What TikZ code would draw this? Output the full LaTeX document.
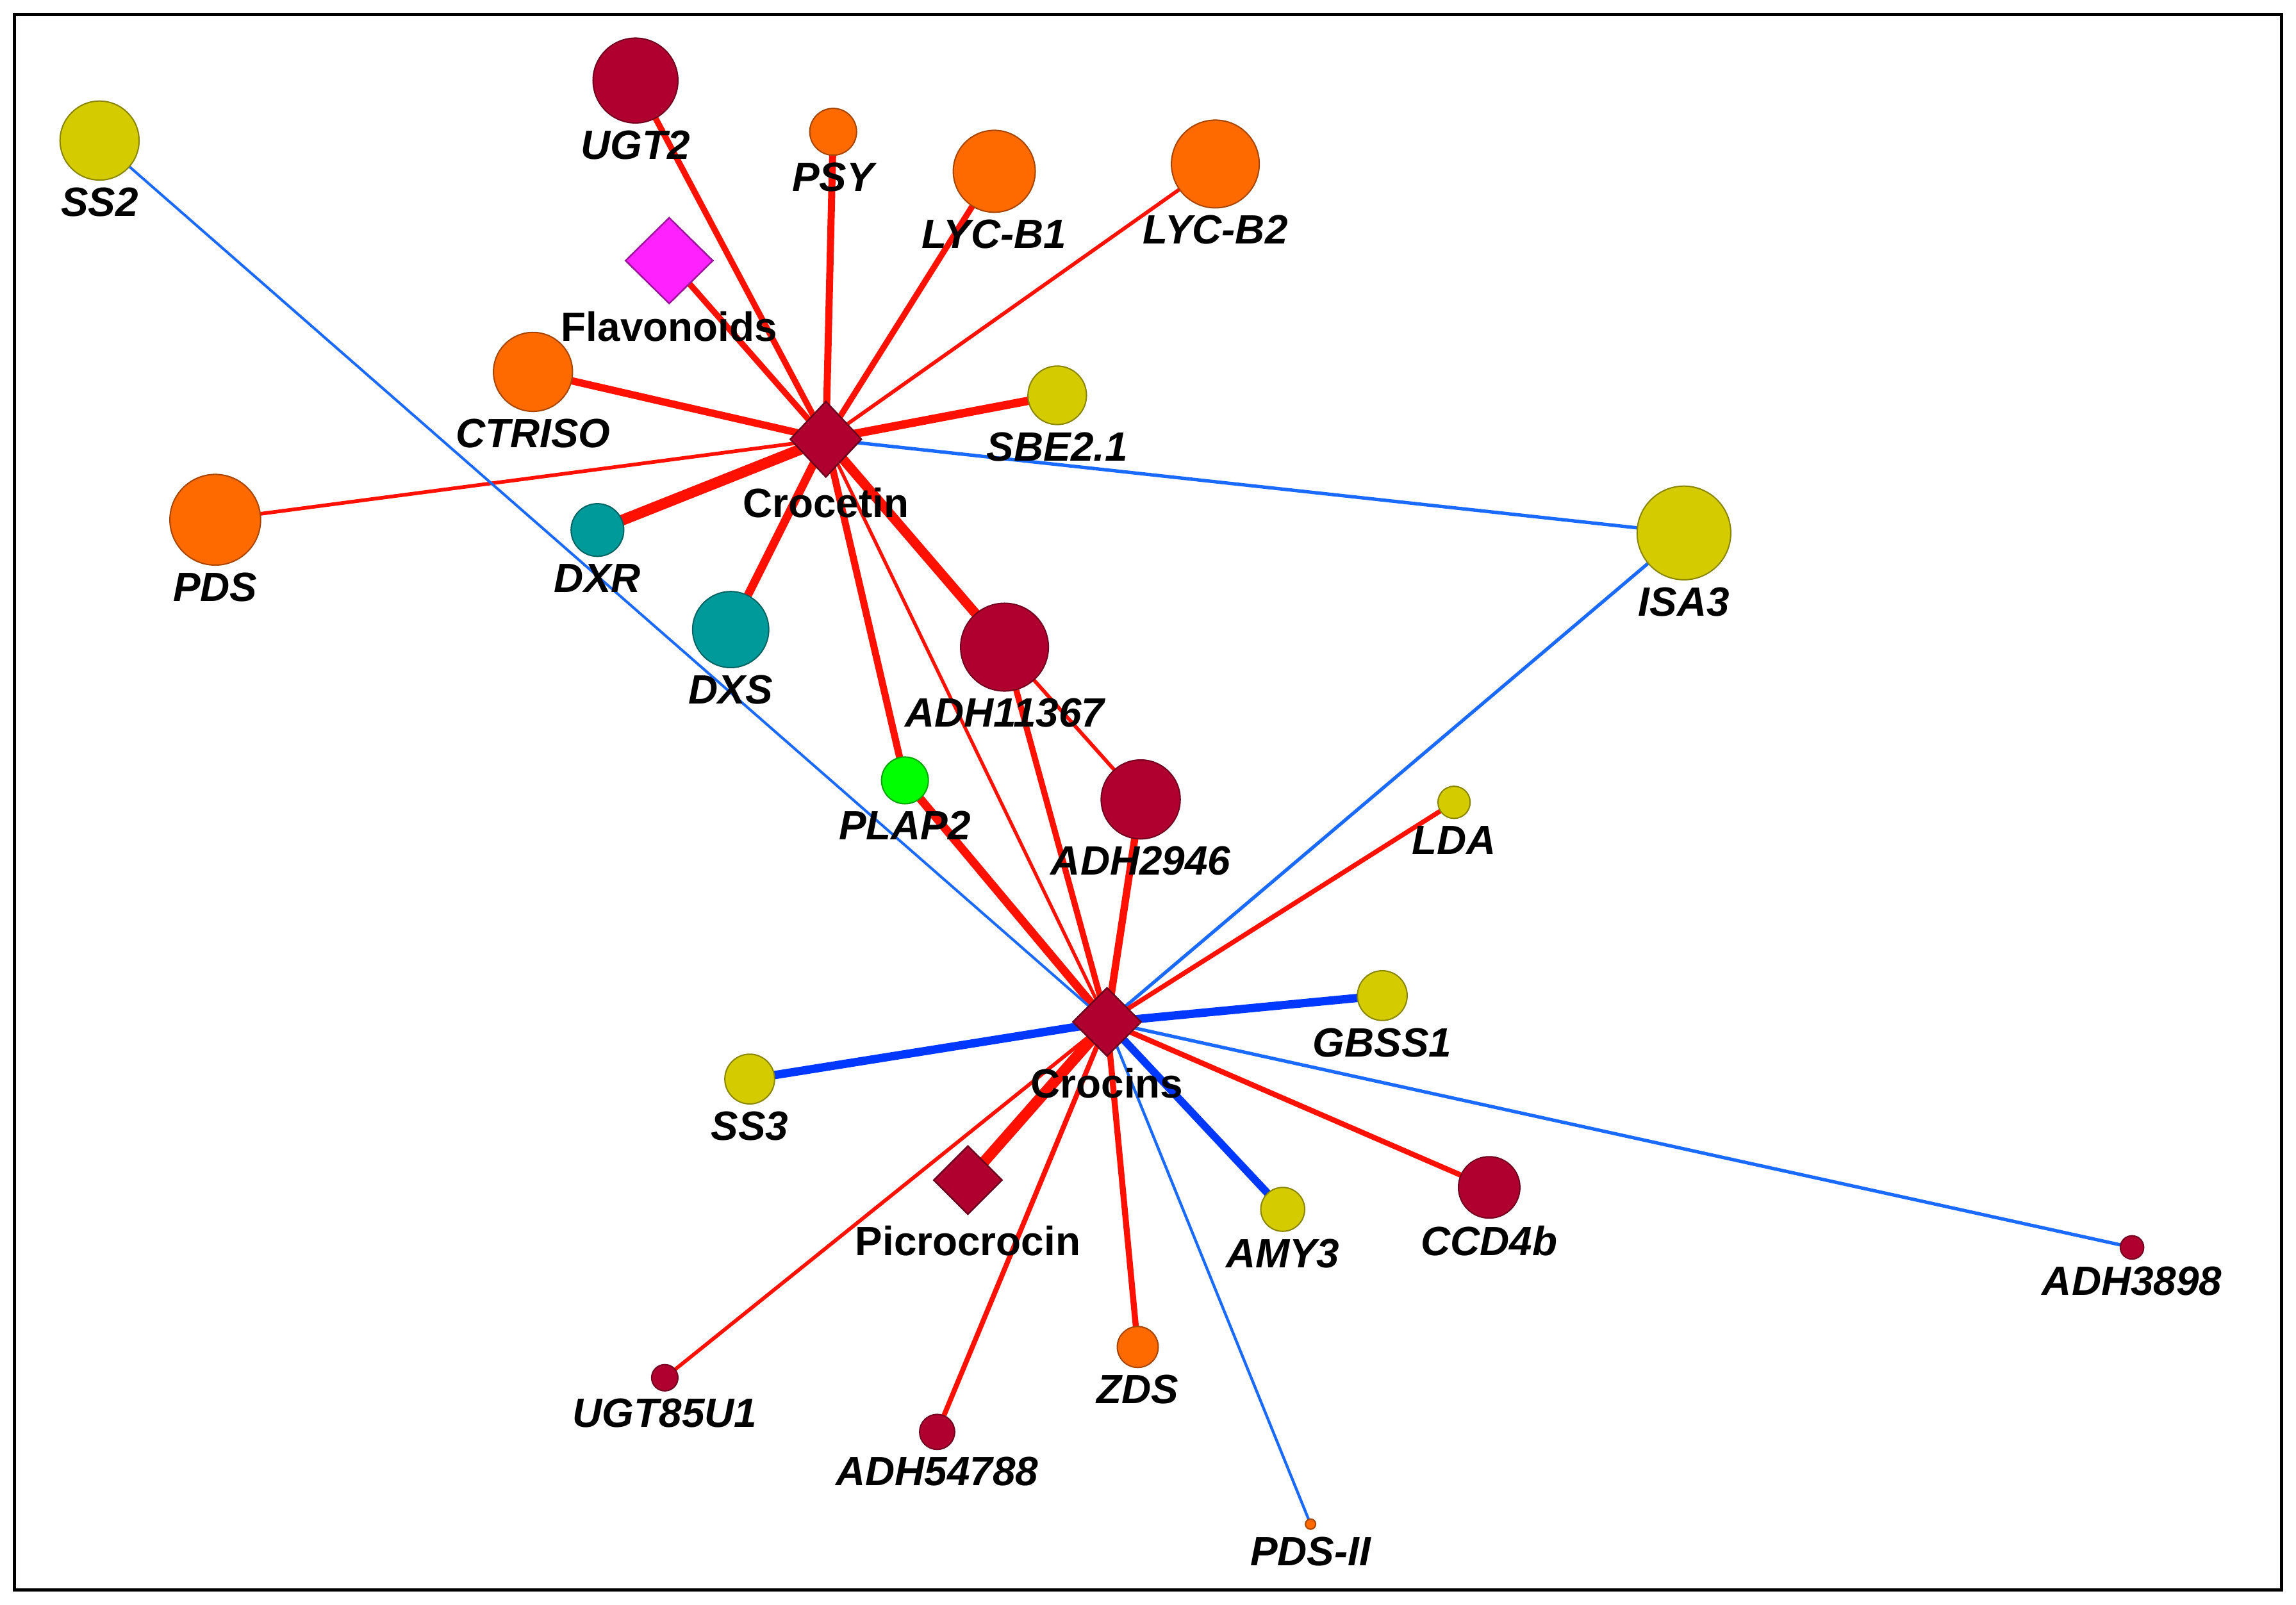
\documentclass[tikz,border=0pt]{standalone}
\usepackage{fontspec}
\setmainfont{Liberation Sans}
\usetikzlibrary{shapes.geometric}
\pgfdeclarelayer{bg}
\pgfsetlayers{bg,main}
\definecolor{crim}{HTML}{B00030}
\definecolor{ylw}{HTML}{D4CC00}
\definecolor{orng}{HTML}{FF6A00}
\definecolor{teal2}{HTML}{009A9A}
\definecolor{grn}{HTML}{00FF00}
\definecolor{mag}{HTML}{FF22FF}
\definecolor{ered}{HTML}{FF1000}
\definecolor{eblue}{HTML}{0038FF}
\definecolor{eblueT}{HTML}{1A6AFF}
\tikzset{
  cpd/.style 2 args={diamond, aspect=1, inner sep=0pt, minimum width={#1*0.02cm}, minimum height={#2*0.02cm}, line width=0.6pt},
  lab/.style={inner sep=0pt, font=\fontsize{15.9}{18}\selectfont\bfseries\itshape},
  clab/.style={inner sep=0pt, font=\fontsize{15.9}{18}\selectfont\bfseries},
  rd/.style={draw=ered, line width=#1*0.65pt},
  bl/.style={draw=eblue, line width=#1*0.65pt},
  blt/.style={draw=eblueT, line width=#1*0.6pt},
}
\newcommand{\gn}[6]{\node[circle, inner sep=0pt, minimum size={#4*0.04cm}, fill=#5, draw=#5!65!black, line width=0.5pt] (#1) at (#2,#3) {};
  \node[lab, anchor=north] (#1-l) at ([yshift=-2.5pt]#1.south) {#6};}
\begin{document}
\begin{tikzpicture}[x=0.02cm,y=-0.02cm]
\useasboundingbox (0,0) rectangle (1568,1096);
\node[draw=black, line width=1.3pt, minimum width=1548*0.02cm, minimum height=1076*0.02cm, inner sep=0pt] (frame) at (784,548) {};
% genes
\gn{SS2}{68}{96}{27}{ylw}{SS2}
\gn{UGT2}{434}{55}{29}{crim}{UGT2}
\gn{PSY}{569}{90}{16}{orng}{PSY}
\gn{LYCB1}{679}{117}{28}{orng}{LYC-B1}
\gn{LYCB2}{830}{112}{30}{orng}{LYC-B2}
\gn{CTRISO}{364}{254}{27}{orng}{CTRISO}
\gn{SBE}{722}{270}{20}{ylw}{SBE2.1}
\gn{PDS}{147}{355}{31}{orng}{PDS}
\gn{DXR}{408}{362}{18}{teal2}{DXR}
\gn{DXS}{499}{430}{26}{teal2}{DXS}
\gn{ISA3}{1150}{364}{32}{ylw}{ISA3}
\gn{ADHa}{686}{442}{30}{crim}{ADH11367}
\gn{PLAP2}{618}{533}{16}{grn}{PLAP2}
\gn{ADHb}{779}{546}{27}{crim}{ADH2946}
\gn{LDA}{993}{548}{11}{ylw}{LDA}
\gn{GBSS1}{944}{680}{17}{ylw}{GBSS1}
\gn{SS3}{512}{737}{17}{ylw}{SS3}
\gn{AMY3}{876}{826}{15}{ylw}{AMY3}
\gn{CCD4b}{1017}{811}{21}{crim}{CCD4b}
\gn{ADHc}{1456}{852}{8}{crim}{ADH3898}
\gn{UGT85}{454}{941}{9}{crim}{UGT85U1}
\gn{ADHd}{640}{978}{12}{crim}{ADH54788}
\gn{ZDS}{777}{920}{14}{orng}{ZDS}
\gn{PDSII}{895}{1041}{3.5}{orng}{PDS-II}
% compounds
\node[cpd={60}{59}, fill=mag, draw=mag!60!black] (Flav) at (457,178) {};
\node[clab, anchor=north] (Flav-l) at ([yshift=-2.5pt]Flav.south) {Flavonoids};
\node[cpd={49}{52}, fill=crim, draw=crim!60!black] (Croc) at (564,300) {};
\node[clab, anchor=north] (Croc-l) at ([yshift=-3.5pt]Croc.south) {Crocetin};
\node[cpd={47}{47}, fill=crim, draw=crim!60!black] (Crins) at (756,698) {};
\node[clab, anchor=north] (Crins-l) at ([yshift=-4pt]Crins.south) {Crocins};
\node[cpd={47}{47}, fill=crim, draw=crim!60!black] (Picro) at (661,806) {};
\node[clab, anchor=north] (Picro-l) at ([yshift=-4pt]Picro.south) {Picrocrocin};
% edges
\begin{pgfonlayer}{bg}
\draw[rd=3.6] (Croc.center) -- (UGT2.center);
\draw[rd=4.2] (Croc.center) -- (PSY.center);
\draw[rd=3.6] (Croc.center) -- (LYCB1.center);
\draw[rd=2.2] (Croc.center) -- (LYCB2.center);
\draw[rd=3.6] (Croc.center) -- (Flav.center);
\draw[rd=4.4] (Croc.center) -- (CTRISO.center);
\draw[rd=5] (Croc.center) -- (SBE.center);
\draw[rd=2.2] (Croc.center) -- (PDS.center);
\draw[rd=6.5] (Croc.center) -- (DXR.center);
\draw[rd=5] (Croc.center) -- (DXS.center);
\draw[blt=2.2] (Croc.center) -- (ISA3.center);
\draw[rd=5.8] (Croc.center) -- (ADHa.center);
\draw[rd=4.2] (Croc.center) -- (PLAP2.center);
\draw[rd=2] (Croc.center) -- (Crins.center);
\draw[rd=2.2] (ADHa.center) -- (ADHb.center);
\draw[rd=3.6] (ADHa.center) -- (Crins.center);
\draw[rd=5] (PLAP2.center) -- (Crins.center);
\draw[rd=4.4] (ADHb.center) -- (Crins.center);
\draw[blt=1.7] (SS2.center) -- (Crins.center);
\draw[blt=2.2] (ISA3.center) -- (Crins.center);
\draw[rd=2.8] (LDA.center) -- (Crins.center);
\draw[bl=5] (GBSS1.center) -- (Crins.center);
\draw[bl=5] (SS3.center) -- (Crins.center);
\draw[rd=6.5] (Picro.center) -- (Crins.center);
\draw[bl=4.6] (AMY3.center) -- (Crins.center);
\draw[rd=3.2] (CCD4b.center) -- (Crins.center);
\draw[blt=2.2] (ADHc.center) -- (Crins.center);
\draw[rd=2.2] (UGT85.center) -- (Crins.center);
\draw[rd=3] (ADHd.center) -- (Crins.center);
\draw[rd=3.6] (ZDS.center) -- (Crins.center);
\draw[blt=1.8] (PDSII.center) -- (Crins.center);
\end{pgfonlayer}
\end{tikzpicture}
\end{document}
